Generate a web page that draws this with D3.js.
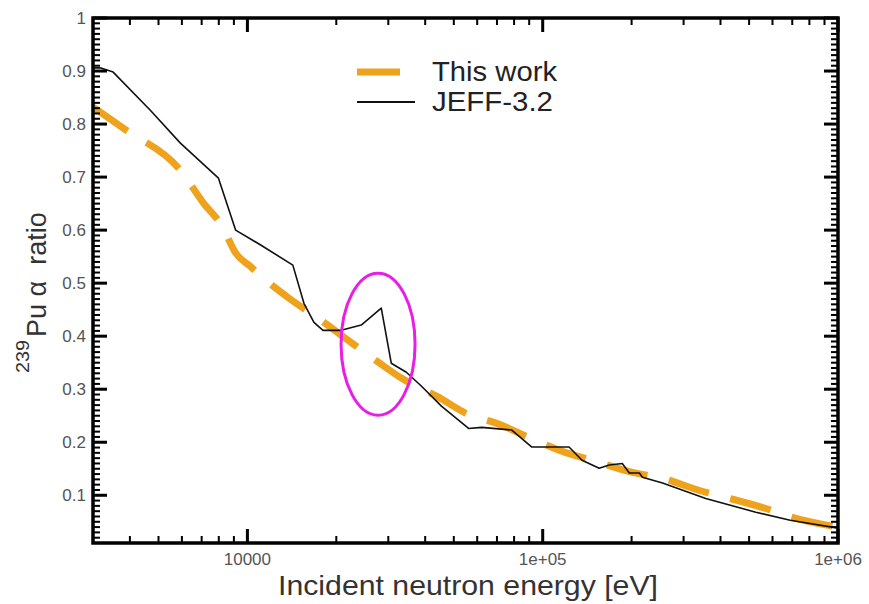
<!DOCTYPE html>
<html>
<head>
<meta charset="utf-8">
<script src="https://cdn.jsdelivr.net/npm/d3@7"></script>
<style>
  html, body { margin: 0; padding: 0; background: #fff; }
  svg { display: block; font-family: "Liberation Sans", Arial, Helvetica, sans-serif; }
</style>
</head>
<body>
<svg id="chart" width="869" height="604"></svg>
<script>
// ---- data ----
const jeffE = [3000, 3170, 3510, 4690, 5930, 7980, 9120, 11090, 14250, 15540, 16800, 18030, 20770, 24290, 28400, 30700, 34530, 38800, 45400, 56100, 62100, 78600, 91900, 122800, 135900, 155300, 168000, 186000, 196500, 212500, 217600, 254500, 356600, 527000, 688800, 1000000];
const jeffV = [0.906, 0.906, 0.898, 0.826, 0.764, 0.698, 0.600, 0.572, 0.534, 0.462, 0.426, 0.411, 0.411, 0.421, 0.453, 0.349, 0.332, 0.306, 0.268, 0.226, 0.228, 0.223, 0.191, 0.191, 0.166, 0.151, 0.157, 0.160, 0.142, 0.142, 0.134, 0.123, 0.094, 0.068, 0.053, 0.038];

const workE = [3000, 3850, 5930, 7100, 8240, 9120, 10260, 11530, 13800, 17750, 21250, 27740, 33200, 44360, 54400, 72600, 89700, 119100, 146900, 201200, 254500, 339600, 429500, 570100, 704700, 1000000];
const workV = [0.832, 0.790, 0.713, 0.651, 0.606, 0.557, 0.531, 0.506, 0.472, 0.430, 0.398, 0.351, 0.321, 0.285, 0.256, 0.232, 0.209, 0.181, 0.166, 0.143, 0.132, 0.109, 0.094, 0.075, 0.058, 0.040];

const xMajorTicks = [10000, 100000, 1000000];
const xTickLabels = ["10000", "1e+05", "1e+06"];
const yMajorTicks = [0.1, 0.2, 0.3, 0.4, 0.5, 0.6, 0.7, 0.8, 0.9, 1.0];
const yTickLabels = ["0.1", "0.2", "0.3", "0.4", "0.5", "0.6", "0.7", "0.8", "0.9", "1"];
const seriesNames = ["This work", "JEFF-3.2"];
// highlighted region (energy, ratio) of the circled bump
const markCenter = [27700, 0.385];

// ---- layout ----
const L = 93, R = 838, T = 18, B = 543;
const svg = d3.select("#chart");
const x = d3.scaleLog().domain([3000, 1e6]).range([L, R]);
const y = d3.scaleLinear().domain([0.01, 1]).range([B, T]);

const xMinor = [];
for (let d = 1000; d < 1e6; d *= 10) for (let k = 2; k <= 9; k++) { const v = d * k; if (v >= 3000 && v <= 1e6) xMinor.push(v); }
const yMinor = d3.range(2, 100).filter(i => i % 10 !== 0).map(i => i / 100);

const labelColor = "#555";
const ink = "black";

const workData = workE.map((e, i) => [e, workV[i]]);
const jeffData = jeffE.map((e, i) => [e, jeffV[i]]);

const orange = "#efa31c";
svg.append("path").datum(workData)
  .attr("d", d3.line().x(d => x(d[0])).y(d => y(d[1])).curve(d3.curveMonotoneX))
  .attr("fill", "none").attr("stroke", orange).attr("stroke-width", 7)
  .attr("stroke-dasharray", "42,22");

svg.append("path").datum(jeffData)
  .attr("d", d3.line().x(d => x(d[0])).y(d => y(d[1])))
  .attr("fill", "none").attr("stroke", "#111").attr("stroke-width", 1.6)
  .attr("stroke-linejoin", "round");

// circled region
svg.append("ellipse")
  .attr("cx", x(markCenter[0])).attr("cy", y(markCenter[1]))
  .attr("rx", 37).attr("ry", 71)
  .attr("fill", "none").attr("stroke", "#e81ee8").attr("stroke-width", 3);

// frame
svg.append("rect").attr("x", L).attr("y", T).attr("width", R - L).attr("height", B - T)
  .attr("fill", "none").attr("stroke", ink).attr("stroke-width", 3.5);

// tick marks (inward on all four sides)
const tickG = svg.append("g");
function addTicks(xs, ys, len, w) {
  xs.forEach(v => {
    tickG.append("rect").attr("x", x(v) - w / 2).attr("y", B - len).attr("width", w).attr("height", len).attr("fill", ink);
    tickG.append("rect").attr("x", x(v) - w / 2).attr("y", T).attr("width", w).attr("height", len).attr("fill", ink);
  });
  ys.forEach(v => {
    tickG.append("rect").attr("x", L).attr("y", y(v) - w / 2).attr("width", len).attr("height", w).attr("fill", ink);
    tickG.append("rect").attr("x", R - len).attr("y", y(v) - w / 2).attr("width", len).attr("height", w).attr("fill", ink);
  });
}
addTicks(xMinor, yMinor, 7, 2);
addTicks(xMajorTicks, yMajorTicks, 14, 3);

// tick labels
xMajorTicks.forEach((v, i) => {
  svg.append("text").attr("x", x(v)).attr("y", B + 22).attr("text-anchor", "middle")
    .attr("font-size", 17).attr("fill", labelColor).text(xTickLabels[i]);
});
yMajorTicks.forEach((v, i) => {
  svg.append("text").attr("x", L - 7).attr("y", y(v) + 6).attr("text-anchor", "end")
    .attr("font-size", 17).attr("fill", labelColor).text(yTickLabels[i]);
});

// legend
svg.append("line").attr("x1", 357).attr("x2", 400).attr("y1", 72).attr("y2", 72)
  .attr("stroke", orange).attr("stroke-width", 7);
svg.append("line").attr("x1", 357).attr("x2", 415).attr("y1", 102).attr("y2", 102)
  .attr("stroke", "#111").attr("stroke-width", 1.8);
svg.append("text").attr("x", 432).attr("y", 81).attr("font-size", 27).attr("fill", "#222")
  .attr("textLength", 125).attr("lengthAdjust", "spacingAndGlyphs").text(seriesNames[0]);
svg.append("text").attr("x", 432).attr("y", 111).attr("font-size", 27).attr("fill", "#222")
  .attr("textLength", 121).attr("lengthAdjust", "spacingAndGlyphs").text(seriesNames[1]);

// axis titles
svg.append("text").attr("x", 278).attr("y", 595).attr("font-size", 28).attr("fill", "#333")
  .attr("textLength", 380).attr("lengthAdjust", "spacingAndGlyphs")
  .text("Incident neutron energy [eV]");

svg.append("text").attr("transform", "translate(29,373) rotate(-90)")
  .attr("font-size", 19).attr("fill", "#333")
  .attr("textLength", 33).attr("lengthAdjust", "spacingAndGlyphs").text("239");
const yt = svg.append("text").attr("transform", "translate(46,337) rotate(-90)")
  .attr("font-size", 27).attr("fill", "#333");
yt.append("tspan").text("Pu α");
yt.append("tspan").attr("dx", 16).text("ratio");
</script>
</body>
</html>
